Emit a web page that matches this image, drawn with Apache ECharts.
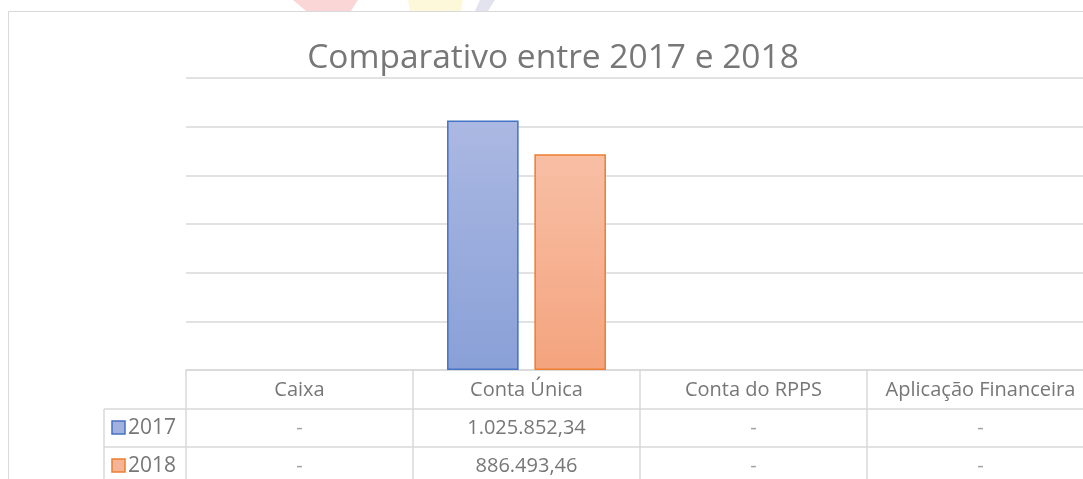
<!DOCTYPE html>
<html>
<head>
<meta charset="utf-8">
<script src="https://cdn.jsdelivr.net/npm/echarts@6/dist/echarts.min.js"></script>
<style>
html,body{margin:0;padding:0;background:#fff;overflow:hidden;width:1083px;height:479px;}
#c{width:1100px;height:479px;}
</style>
</head>
<body>
<div id="c"></div>
<script>
const categories = ['Caixa', 'Conta Única', 'Conta do RPPS', 'Aplicação Financeira'];
const seriesNames = ['2017', '2018'];
const values2017 = [0, 1025852.34, 0, 0];
const values2018 = [0, 886493.46, 0, 0];
const yMin = 0, yMax = 1200000, yInterval = 200000;

const FONT = '"Open Sans", "Noto Sans", sans-serif';
const TXT = '#777777';
const LINE = '#d9d9d9';

function fmt(v) {
  if (!v) return '-';
  const parts = v.toFixed(2).split('.');
  const int = parts[0].replace(/\B(?=(\d{3})+(?!\d))/g, '.');
  return int + ',' + parts[1];
}
function barData(vals) {
  return vals.map(v => v ? v : {value: v, itemStyle: {borderWidth: 0, opacity: 0}});
}

const chart = echarts.init(document.getElementById('c'), null, {renderer: 'canvas'});

const blueFill = new echarts.graphic.LinearGradient(0, 0, 0, 1, [
  {offset: 0, color: '#abb8e2'}, {offset: 1, color: '#89a0d7'}]);
const orangeFill = new echarts.graphic.LinearGradient(0, 0, 0, 1, [
  {offset: 0, color: '#f8bfa5'}, {offset: 1, color: '#f4a47e'}]);

chart.setOption({
  animation: false,
  title: {
    text: 'Comparativo entre 2017 e 2018',
    left: 548, top: 36, textAlign: 'center',
    textStyle: {fontFamily: FONT, fontSize: 33.5, fontWeight: 'normal', color: TXT}
  },
  grid: {left: 186, right: 6, top: 78, bottom: 109},
  xAxis: {
    type: 'category', data: categories, boundaryGap: true,
    axisLine: {lineStyle: {color: LINE, width: 1.5}},
    axisTick: {show: true, interval: 0, alignWithLabel: false, length: 120, lineStyle: {color: LINE, width: 1.5}},
    axisLabel: {interval: 0, margin: 20, verticalAlign: 'middle', fontFamily: FONT, fontSize: 20, color: TXT}
  },
  yAxis: {
    type: 'value', min: yMin, max: yMax, interval: yInterval,
    axisLabel: {show: false}, axisLine: {show: false}, axisTick: {show: false},
    splitLine: {lineStyle: {color: LINE, width: 1.5}}
  },
  series: [
    {name: seriesNames[0], type: 'bar', data: barData(values2017), barGap: '22%', barCategoryGap: '30%',
     itemStyle: {color: blueFill, borderColor: '#4472c4', borderWidth: 1.5}},
    {name: seriesNames[1], type: 'bar', data: barData(values2018),
     itemStyle: {color: orangeFill, borderColor: '#ed7d31', borderWidth: 1.5}}
  ]
});

// Data table below the axis
const rows = [
  {name: seriesNames[0], vals: values2017, fill: '#a3b1de', stroke: '#4472c4'},
  {name: seriesNames[1], vals: values2018, fill: '#f6b497', stroke: '#ed7d31'}
];
const rowTop = 409, rowH = 38, tableLeft = 104, tableRight = 1094;
const g = [];
// chart border
g.push({type: 'polyline', shape: {points: [[8.5, 600], [8.5, 11.5], [1200, 11.5]]}, style: {stroke: LINE, lineWidth: 1, fill: null}, z: 1});
// faint logo shapes at top
g.push({type: 'polygon', shape: {points: [[293, 0], [358, 0], [351, 11], [306, 11]]}, style: {fill: '#fbd6d6'}, z: 0});
g.push({type: 'polygon', shape: {points: [[408, 0], [463, 0], [461, 11], [410, 11]]}, style: {fill: '#fdf8da'}, z: 0});
g.push({type: 'polygon', shape: {points: [[480, 0], [495, 0], [488, 11], [475, 11]]}, style: {fill: '#e3e3f0'}, z: 0});
// table lines
for (let i = 0; i <= rows.length; i++) {
  const y = rowTop + i * rowH;
  g.push({type: 'line', shape: {x1: tableLeft, y1: y, x2: tableRight, y2: y}, style: {stroke: LINE, lineWidth: 1.5}});
}
g.push({type: 'line', shape: {x1: tableLeft, y1: rowTop, x2: tableLeft, y2: 600}, style: {stroke: LINE, lineWidth: 1.5}});
rows.forEach((r, i) => {
  const cy = rowTop + i * rowH + rowH / 2;
  g.push({type: 'rect', shape: {x: 112, y: cy - 7, width: 13, height: 13}, style: {fill: r.fill, stroke: r.stroke, lineWidth: 1.5}});
  g.push({type: 'text', x: 128, y: cy, style: {text: r.name, font: '21px ' + FONT, fill: TXT, textVerticalAlign: 'middle', textAlign: 'left'}});
  categories.forEach((c, j) => {
    const px = chart.convertToPixel({xAxisIndex: 0}, c);
    g.push({type: 'text', x: px, y: cy, style: {text: fmt(r.vals[j]), font: '20px ' + FONT, fill: r.vals[j] ? TXT : '#a0a0a0', textAlign: 'center', textVerticalAlign: 'middle'}});
  });
});
chart.setOption({graphic: g});
</script>
</body>
</html>
